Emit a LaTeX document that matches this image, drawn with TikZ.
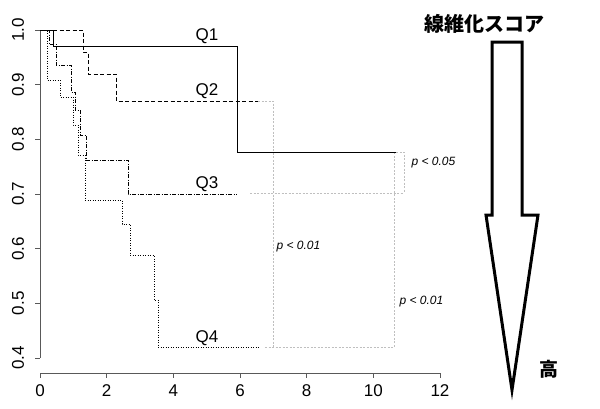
\documentclass[tikz,border=0pt]{standalone}
\usepackage{fontspec}
\setsansfont{Liberation Sans}
\newfontfamily\cjk{Noto Sans CJK JP}
\begin{document}
\begin{tikzpicture}[x=1pt,y=1pt,yscale=-1,xscale=1,
  curve/.style={line width=0.9pt},
  guide/.style={color=gray!50,dash pattern={on 2pt off 1.5pt},line width=0.5pt},
  tick/.style={font=\sffamily\fontsize{17}{17}\selectfont},
  qlabel/.style={font=\sffamily\fontsize{17}{17}\selectfont,anchor=center},
  plabel/.style={font=\sffamily\itshape\fontsize{12}{12}\selectfont,anchor=west}]
\useasboundingbox (0,0) rectangle (600,408);
% axes
\draw [color=gray!70!black]   (40,30) -- (40,358) ;
\draw [color=gray!70!black]   (40,373) -- (440,373) ;
\foreach \v [count=\i from 0] in {0.4,0.5,0.6,0.7,0.8,0.9,1.0} {
  \draw [color=gray!70!black] (35,358-54.67*\i) -- (40,358-54.67*\i) ;
  \node [tick,rotate=90] at (18,358-54.67*\i) {\v};
}
\foreach \v in {0,2,4,6,8,10,12} {
  \draw [color=gray!70!black] (40+33.33*\v,373) -- (40+33.33*\v,378) ;
  \node [tick] at (40+33.33*\v,391) {\v};
}
% gray guides
\draw [guide]  (258,101) -- (273,101) -- (273,347) ;
\draw [guide]  (265,347) -- (394,347) -- (394,152) ;
\draw [guide]  (250,193) -- (404,193) ;
\draw [guide]  (396,152) -- (404,152) -- (404,193) ;
% survival curves
\draw [curve]  (40,30) -- (53,30) -- (53,46) -- (237,46) -- (237,152) -- (396,152) ;
\draw [curve,dash pattern={on 4pt off 2.5pt}]  (40,30) -- (83,30) -- (83,52) -- (88,52) -- (88,74) -- (116,74) -- (116,101) -- (258,101) ;
\draw [curve,dash pattern={on 4pt off 1.5pt on 1pt off 1.5pt}]  (40,30) -- (49,30) -- (49,44) -- (56,44) -- (56,65) -- (71,65) -- (71,92) -- (75,92) -- (75,110) -- (80,110) -- (80,135) -- (86,135) -- (86,160) -- (128,160) -- (128,194) -- (237,194) ;
\draw [curve,dash pattern={on 1pt off 1.5pt}]  (40,30) -- (47,30) -- (47,80) -- (60,80) -- (60,97) -- (73,97) -- (73,125) -- (78,125) -- (78,155) -- (85,155) -- (85,200) -- (122,200) -- (122,224) -- (130,224) -- (130,255) -- (154,255) -- (154,300) -- (158,300) -- (158,347) -- (260,347) ;
% labels
\node [qlabel] (q1) at (207,36) {Q1};
\node [qlabel] (q2) at (207,91) {Q2};
\node [qlabel] (q3) at (207,184) {Q3};
\node [qlabel] (q4) at (207,338) {Q4};
\node [plabel] (p1) at (408,163) {p < 0.05};
\node [plabel] (p2) at (273,247) {p < 0.01};
\node [plabel] (p3) at (396,302) {p < 0.01};
% score arrow
\draw [line width=3pt,line join=miter]  (492,42) -- (522,42) -- (522,215) -- (538,215) -- (512,390) -- (486,215) -- (492,215) -- cycle ;
\node [font=\cjk\bfseries\fontsize{20}{20}\selectfont] (title) at (484,24) {線維化スコア};
\node [font=\cjk\bfseries\fontsize{19}{19}\selectfont] (high) at (549,369) {高};
\end{tikzpicture}
\end{document}
